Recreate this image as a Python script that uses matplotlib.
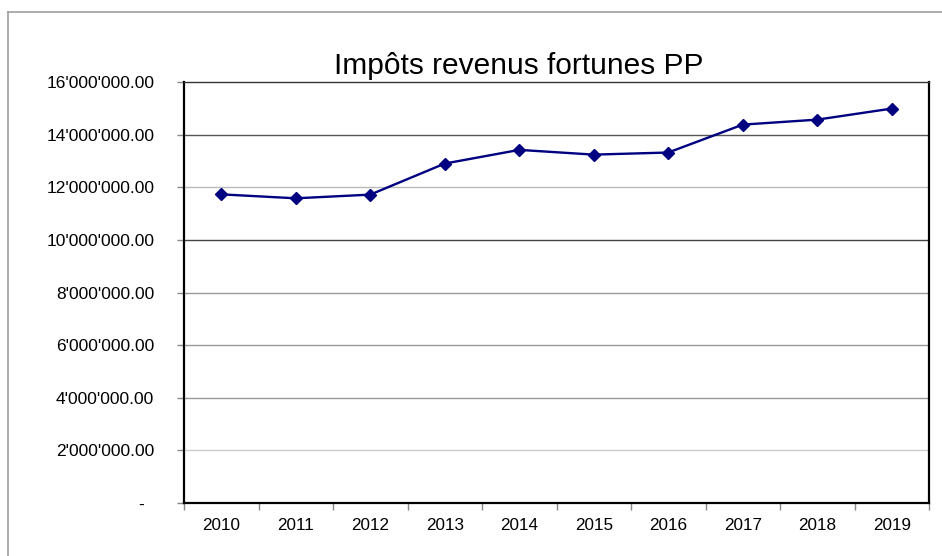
import matplotlib
matplotlib.use("Agg")
import matplotlib.pyplot as plt
from matplotlib.lines import Line2D
from matplotlib.ticker import FuncFormatter, FixedLocator

# data
years = ["2010", "2011", "2012", "2013", "2014", "2015", "2016", "2017", "2018", "2019"]
impots = [11730000, 11580000, 11720000, 12900000, 13420000,
          13240000, 13320000, 14380000, 14570000, 14990000]
y_ticks = [0, 2000000, 4000000, 6000000, 8000000, 10000000, 12000000, 14000000, 16000000]
title = "Impôts revenus fortunes PP"

# gridline greys vary in the original (scaled screenshot)
grid_colors = ["#cccccc", "#999999", "#999999", "#999999", "#444444", "#bbbbbb", "#555555"]

plt.rcParams["font.family"] = ["Liberation Sans", "DejaVu Sans"]

W, H = 942, 556
fig = plt.figure(figsize=(W / 100, H / 100), dpi=100)
ax = fig.add_axes([184 / W, 1 - 503 / H, (929 - 184) / W, (503 - 82) / H])


def fmt(v, pos):
    if v == 0:
        return "-  "
    return "{:,.2f}".format(v).replace(",", "'")


x = list(range(len(years)))
for val, c in zip(y_ticks[1:-1], grid_colors):
    ax.axhline(val, color=c, lw=1.0, zorder=1)

ax.plot(x, impots, color="#000080", lw=1.7, marker="D", markersize=6,
        markerfacecolor="#000080", markeredgecolor="#000080", zorder=3)

ax.set_xlim(-0.5, len(years) - 0.5)
ax.set_ylim(0, 16000000)
ax.yaxis.set_major_locator(FixedLocator(y_ticks))
ax.yaxis.set_major_formatter(FuncFormatter(fmt))
ax.set_xticks(x)
ax.set_xticklabels(years)
ax.xaxis.set_minor_locator(FixedLocator([i + 0.5 for i in range(-1, len(years))]))
ax.tick_params(axis="x", which="major", length=0, pad=10.5, labelsize=12.3)
ax.tick_params(axis="x", which="minor", length=5, width=1, color="#888888", direction="out")
ax.tick_params(axis="y", length=5, width=1, color="#888888", pad=16.5, labelsize=12.5)

for side in ["left", "bottom", "right"]:
    ax.spines[side].set_linewidth(1.6)
    ax.spines[side].set_color("black")
ax.spines["top"].set_linewidth(1.0)
ax.spines["top"].set_color("#333333")

fig.text(519 / W, 1 - 74 / H, title, ha="center", va="baseline", fontsize=21.5)

# chart area border (only left and top visible in the crop)
fig.add_artist(Line2D([8 / W, 8 / W], [0, 1 - 12 / H], transform=fig.transFigure,
                      color="#a0a0a0", lw=1.2))
fig.add_artist(Line2D([8 / W, 1], [1 - 12 / H, 1 - 12 / H], transform=fig.transFigure,
                      color="#a0a0a0", lw=1.2))

fig.savefig("out.png", dpi=100)
